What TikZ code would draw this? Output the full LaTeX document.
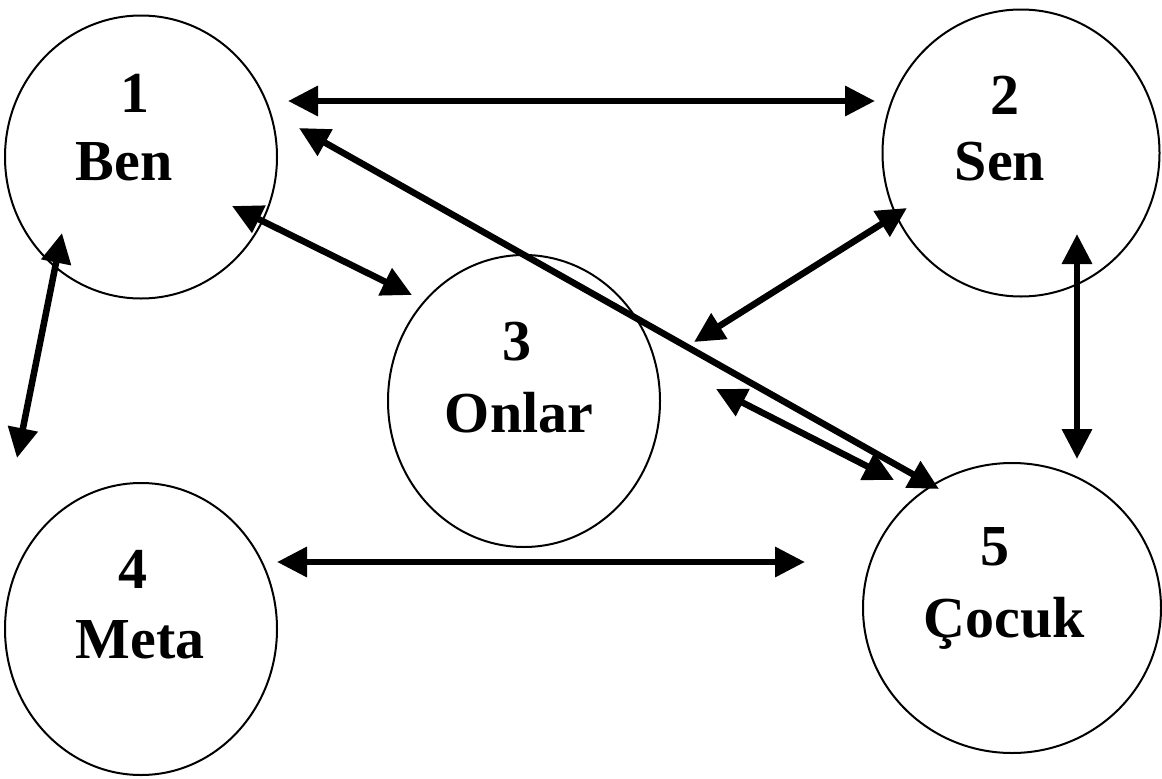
\documentclass[tikz,border=0pt]{standalone}
\usepackage{fontspec}
\setmainfont{Liberation Serif}
\usetikzlibrary{arrows.meta,shapes.geometric}

\tikzset{
  ring/.style={draw, ellipse, line width=2pt, inner sep=0pt, outer sep=0pt},
  lbl/.style={anchor=base, inner sep=0pt, font=\bfseries\fontsize{58}{70}\selectfont},
  link/.style={line width=6.5pt, {Triangle[length=30pt,width=29pt]}-{Triangle[length=30pt,width=29pt]}}
}

\begin{document}
\begin{tikzpicture}[x=1pt, y=-1pt]
  \useasboundingbox (0,0) rectangle (1162,779);

  % the five circles
  \node[ring, minimum width=272pt, minimum height=283pt] (ben)   at (141,157)  {};
  \node[ring, minimum width=277pt, minimum height=287pt] (sen)   at (1021,153) {};
  \node[ring, minimum width=272pt, minimum height=292pt] (onlar) at (524,401)  {};
  \node[ring, minimum width=272pt, minimum height=292pt] (meta)  at (141,629)  {};
  \node[ring, minimum width=298pt, minimum height=290pt] (cocuk) at (1012,608) {};

  % numbers and names
  \node[lbl] (n1) at (135,112) {1};
  \node[lbl] (w1) at (124,180) {Ben};
  \node[lbl] (n2) at (1005,114) {2};
  \node[lbl] (w2) at (1000,180) {Sen};
  \node[lbl] (n3) at (517,360) {3};
  \node[lbl] (w3) at (519,432) {Onlar};
  \node[lbl] (n4) at (133,588) {4};
  \node[lbl] (w4) at (140,658) {Meta};
  \node[lbl] (n5) at (995,565) {5};
  \node[lbl] (w5) at (1004,637) {Çocuk};

  % arrow ends just outside the circles
  \coordinate (ben-sen)    at (288,101);
  \coordinate (sen-ben)    at (875,101);
  \coordinate (ben-cocuk)  at (299,128);
  \coordinate (cocuk-ben)  at (939,489);
  \coordinate (ben-onlar)  at (232,206);
  \coordinate (onlar-ben)  at (412,295);
  \coordinate (ben-meta)   at (62,233);
  \coordinate (meta-ben)   at (17,458);
  \coordinate (sen-onlar)  at (907,208);
  \coordinate (onlar-sen)  at (694,342);
  \coordinate (sen-cocuk)  at (1077,234);
  \coordinate (cocuk-sen)  at (1077,459);
  \coordinate (onlar-cocuk) at (716,389);
  \coordinate (cocuk-onlar) at (894,480);
  \coordinate (meta-cocuk) at (277,562);
  \coordinate (cocuk-meta) at (805,562);

  % double-headed connections
  \draw[link] (ben-sen) -- (sen-ben);
  \draw[link] (ben-cocuk) -- (cocuk-ben);
  \draw[link] (ben-onlar) -- (onlar-ben);
  \draw[link] (ben-meta) -- (meta-ben);
  \draw[link] (sen-onlar) -- (onlar-sen);
  \draw[link] (sen-cocuk) -- (cocuk-sen);
  \draw[link] (onlar-cocuk) -- (cocuk-onlar);
  \draw[link] (meta-cocuk) -- (cocuk-meta);
\end{tikzpicture}
\end{document}
